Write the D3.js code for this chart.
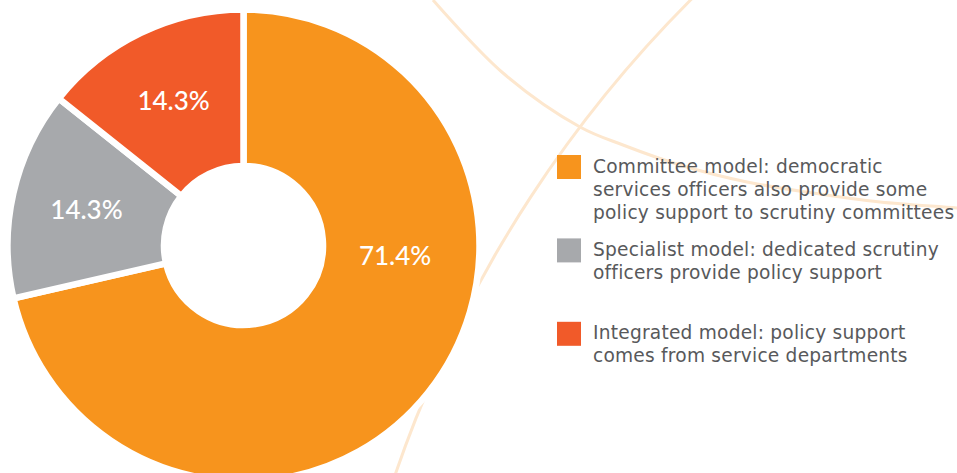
<!DOCTYPE html>
<html>
<head>
<meta charset="utf-8">
<script src="https://cdn.jsdelivr.net/npm/d3@7"></script>
<style>
  html, body { margin: 0; padding: 0; background: #ffffff; }
  svg { display: block; }
</style>
</head>
<body>
<svg id="chart" width="957" height="473"></svg>
<script>
// Support models and their shares (%)
const models = ["Committee model", "Specialist model", "Integrated model"];
const shares = [71.4, 14.3, 14.3];
const shareLabels = ["71.4%", "14.3%", "14.3%"];
const colors = ["#F7941D", "#A7A9AC", "#F15A29"];
const legendLines = [
  ["Committee model: democratic", "services officers also provide some", "policy support to scrutiny committees"],
  ["Specialist model: dedicated scrutiny", "officers provide policy support"],
  ["Integrated model: policy support", "comes from service departments"]
];

// Decorative background strokes
const sweepPoints = [[433, 0], [503, 73], [580, 127], [623, 145], [680, 165], [747, 182], [813, 193], [880, 202], [957, 208], [990, 211]];
const ringCircle = { cx: 1566, cy: 874, r: 1237 };

const svg = d3.select("#chart");

const bg = svg.append("g");
bg.append("path")
  .attr("d", d3.line().curve(d3.curveCatmullRom.alpha(0.5))(sweepPoints))
  .attr("fill", "none")
  .attr("stroke", "#FDE7CE")
  .attr("stroke-width", 3);
bg.append("circle")
  .attr("cx", ringCircle.cx).attr("cy", ringCircle.cy).attr("r", ringCircle.r)
  .attr("fill", "none")
  .attr("stroke", "#FDE7CE")
  .attr("stroke-width", 3);

// Donut
const cx = 243.5, cy = 245.5;
const outerR = 236, innerR = 79.5;
const pie = d3.pie().sort(null).value(d => d)(shares);
const arc = d3.arc().innerRadius(innerR).outerRadius(outerR);

const g = svg.append("g").attr("transform", `translate(${cx},${cy})`);
g.selectAll("path.slice")
  .data(pie)
  .join("path")
  .attr("class", "slice")
  .attr("d", arc)
  .attr("fill", (d, i) => colors[i])
  .attr("stroke", "#ffffff")
  .attr("stroke-width", 6.5)
  .attr("stroke-linejoin", "miter");

// Labels: small slices at their middle angle, the large slice nearer its start
function labelPos(d) {
  const span = d.endAngle - d.startAngle;
  const big = span > Math.PI;
  const a = big ? d.startAngle + Math.PI * 0.522 : (d.startAngle + d.endAngle) / 2;
  const r = big ? 152 : 161;
  return [r * Math.sin(a), -r * Math.cos(a)];
}
g.selectAll("text.pct")
  .data(pie)
  .join("text")
  .attr("class", "pct")
  .attr("x", d => labelPos(d)[0])
  .attr("y", d => labelPos(d)[1])
  .attr("text-anchor", "middle")
  .attr("dy", "0.36em")
  .attr("fill", "#ffffff")
  .style("font-family", "Lato, 'Open Sans', sans-serif")
  .style("font-weight", 500)
  .style("font-size", "26px")
  .text((d, i) => shareLabels[i]);

// Legend
const legendX = 557, legendY = 155, legendStep = 83.4, sw = 24;
const items = svg.append("g").selectAll("g.item")
  .data(models)
  .join("g")
  .attr("class", "item")
  .attr("transform", (d, i) => `translate(${legendX},${legendY + i * legendStep})`);
items.append("rect")
  .attr("width", sw).attr("height", sw)
  .attr("fill", (d, i) => colors[i]);
items.append("text")
  .attr("x", 36)
  .attr("y", 17.6)
  .attr("fill", "#58595B")
  .style("font-family", "'DejaVu Sans', sans-serif")
  .style("font-size", "18.6px")
  .style("letter-spacing", "0.22px")
  .selectAll("tspan")
  .data((d, i) => legendLines[i])
  .join("tspan")
  .attr("x", 36)
  .attr("dy", (d, j) => j === 0 ? 0 : 23)
  .text(d => d);
</script>
</body>
</html>
